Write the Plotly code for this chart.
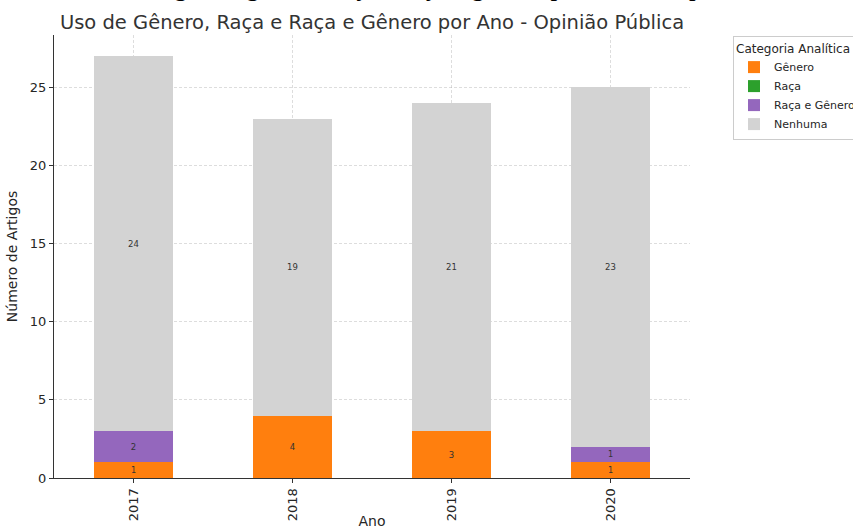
import plotly.graph_objects as go

# dados
anos = ["2017", "2018", "2019", "2020"]
genero = [1, 4, 3, 1]
raca = [0, 0, 0, 0]
raca_genero = [2, 0, 0, 1]
nenhuma = [24, 19, 21, 23]

series = [
    ("Gênero", genero, "#ff7f0e"),
    ("Raça", raca, "#2ca02c"),
    ("Raça e Gênero", raca_genero, "#9467bd"),
    ("Nenhuma", nenhuma, "#d3d3d3"),
]

fig = go.Figure()
for nome, vals, cor in series:
    fig.add_trace(go.Bar(
        x=anos, y=vals, name=nome,
        marker=dict(color=cor, line=dict(width=0)),
        text=[str(v) if v else "" for v in vals],
        textposition="inside", insidetextanchor="middle",
        textfont=dict(size=8.5, color="#333333", family="DejaVu Sans"),
        textangle=0, width=0.5,
    ))

grid = dict(showgrid=True, gridcolor="rgba(170,170,170,0.4)", griddash="3px,2px", gridwidth=1)

# legenda da figura no documento (cortada no topo da imagem)
legenda_doc = "Gráfico 6 – Uso das categorias gênero, raça e raça e gênero por ano na Opinião Pública (2017-2020)"

fig.update_layout(
    barmode="stack",
    width=853, height=529,
    margin=dict(l=54, r=163, t=35, b=51, autoexpand=False),
    paper_bgcolor="white", plot_bgcolor="white",
    font=dict(family="DejaVu Sans", color="#262626"),
    title=dict(text="Uso de Gênero, Raça e Raça e Gênero por Ano - Opinião Pública",
               x=(54 + 690) / 2 / 853, xanchor="center", y=1 - 22 / 529, yanchor="middle",
               font=dict(size=19.5, color="#333333")),
    xaxis=dict(range=[-0.5, 3.5], tickangle=-90, ticks="outside", ticklen=4,
               tickcolor="#333", showline=True, linecolor="#333", linewidth=1,
               tickfont=dict(size=13), title=dict(text="Ano", font=dict(size=14), standoff=2),
               automargin=False, layer="above traces", **grid),
    yaxis=dict(range=[0, 28.35], tickvals=[0, 5, 10, 15, 20, 25], ticks="outside", ticklen=4,
               tickcolor="#333", showline=True, linecolor="#333", linewidth=1,
               tickfont=dict(size=13), title=dict(text="Número de Artigos", font=dict(size=14), standoff=8),
               zeroline=False, automargin=False, layer="above traces", **grid),
    legend=dict(x=733 / 853, xref="container", y=1 - 36 / 529, yref="container",
                xanchor="left", yanchor="top",
                title=dict(text="Categoria Analítica", font=dict(size=12)),
                font=dict(size=11), bordercolor="#cccccc", borderwidth=1,
                tracegroupgap=0, itemsizing="constant", traceorder="normal"),
    annotations=[dict(
        text=legenda_doc,
        xref="paper", yref="paper", x=-145 / 636, xanchor="left",
        y=1 + 32 / 443, yanchor="bottom", showarrow=False,
        font=dict(family="Liberation Serif", size=26.7, color="black"),
    )],
)

fig.write_html("out.html", config={"displayModeBar": False},
               post_script="document.body.style.margin='0';")
